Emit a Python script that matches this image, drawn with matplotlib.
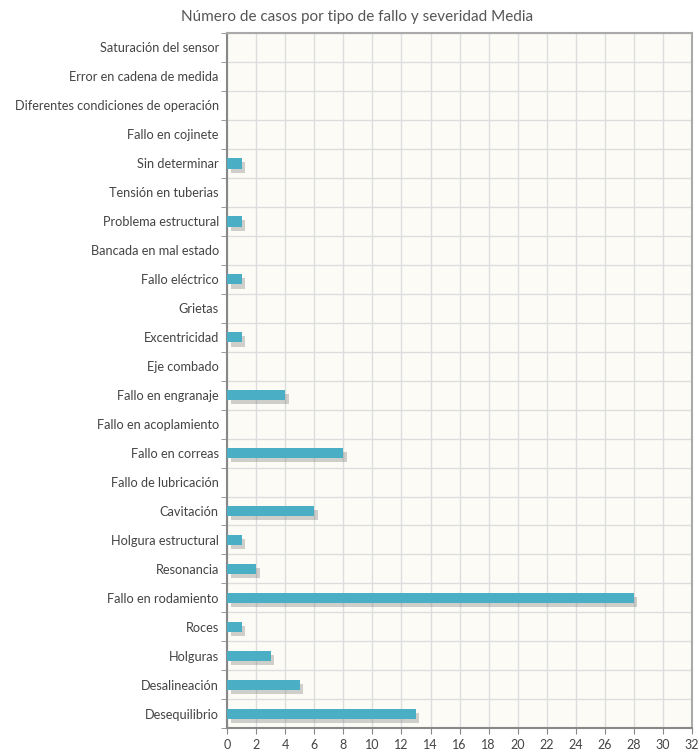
import matplotlib.pyplot as plt
import matplotlib.patheffects as pe
import numpy as np

# Categories listed bottom to top
categories = [
    "Desequilibrio", "Desalineación", "Holguras", "Roces", "Fallo en rodamiento",
    "Resonancia", "Holgura estructural", "Cavitación", "Fallo de lubricación",
    "Fallo en correas", "Fallo en acoplamiento", "Fallo en engranaje", "Eje combado",
    "Excentricidad", "Grietas", "Fallo eléctrico", "Bancada en mal estado",
    "Problema estructural", "Tensión en tuberias", "Sin determinar",
    "Fallo en cojinete", "Diferentes condiciones de operación",
    "Error en cadena de medida", "Saturación del sensor",
]
casos = [13, 5, 3, 1, 28, 2, 1, 6, 0, 8, 0, 4, 0, 1, 0, 1, 0, 1, 0, 1, 0, 0, 0, 0]
x_ticks = list(range(0, 33, 2))

plt.rcParams["font.family"] = ["Lato", "DejaVu Sans"]

fig = plt.figure(figsize=(6.99, 7.5), dpi=100)
ax = fig.add_axes([0.325, 0.029, 0.665, 0.927])
ax.set_facecolor("#fcfbf6")

y = np.arange(len(categories))
bars = ax.barh(y, casos, height=0.36, color="#4aafc4", zorder=3)
for b in bars:
    if b.get_width() > 0:
        b.set_path_effects([
            pe.SimplePatchShadow(offset=(2.5, -3), shadow_rgbFace="#666666", alpha=0.3),
            pe.Normal(),
        ])

ax.set_xlim(0, 32)
ax.set_ylim(-0.5, len(categories) - 0.5)
ax.set_xticks(x_ticks)
ax.set_yticks(y)
ax.set_yticklabels(categories)
ax.set_yticks(np.arange(-0.5, len(categories), 1), minor=True)

ax.grid(True, axis="x", color="#dddddd", linewidth=1, zorder=0)
ax.grid(True, axis="y", which="minor", color="#dddddd", linewidth=1, zorder=0)
ax.set_axisbelow(True)

ax.tick_params(axis="y", which="major", length=0, pad=6, labelsize=9.2, labelcolor="#444444")
ax.tick_params(axis="y", which="minor", length=4, color="#888888")
ax.tick_params(axis="x", length=4, color="#888888", labelsize=9, labelcolor="#444444")

for side in ["left", "bottom"]:
    ax.spines[side].set_color("#888888")
    ax.spines[side].set_linewidth(1.5)
for side in ["top", "right"]:
    ax.spines[side].set_color("#aaaaaa")
    ax.spines[side].set_linewidth(1.5)

fig.text(0.511, 0.978, "Número de casos por tipo de fallo y severidad Media",
         ha="center", va="center", fontsize=11, color="#555555")

fig.savefig("out.png", dpi=100)
